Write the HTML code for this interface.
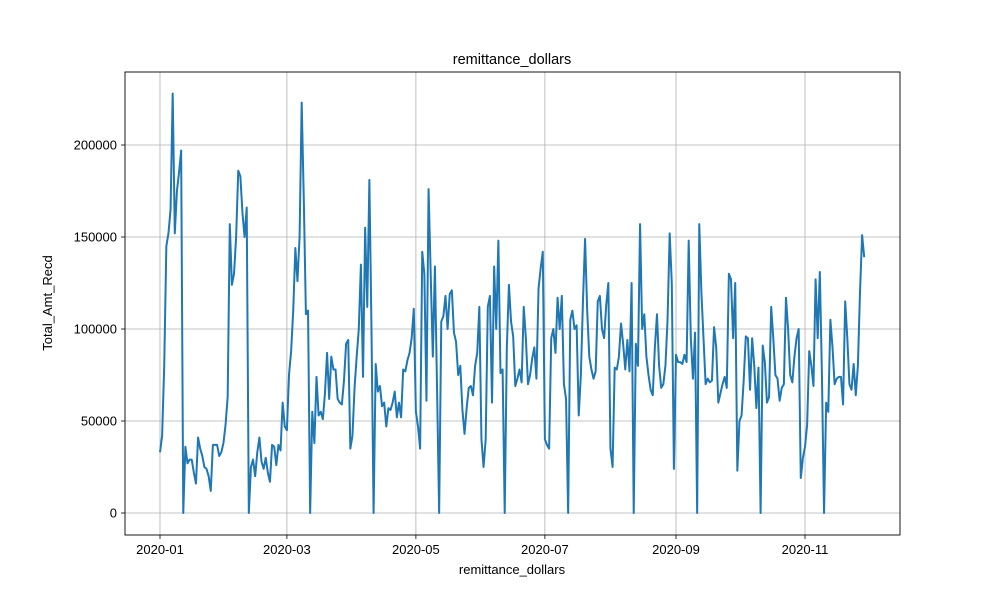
<!DOCTYPE html>
<html><head><meta charset="utf-8"><style>
body{margin:0;background:#fff;}
svg text{font-family:"Liberation Sans","DejaVu Sans",sans-serif;}
</style></head><body>
<svg id="chart" width="1000" height="600" xmlns="http://www.w3.org/2000/svg">
<rect width="1000" height="600" fill="#fff"/>
<g id="grid"></g>
<g id="axes"></g>
<path id="line" fill="none" stroke="#1f77b4" stroke-width="2" stroke-linejoin="round"/>
<rect x="125" y="72" width="775" height="463" fill="none" stroke="#000" stroke-width="0.9"/>
<text x="512" y="64" font-size="14.5" text-anchor="middle">remittance_dollars</text>
<text x="512" y="574" font-size="13" text-anchor="middle">remittance_dollars</text>
<text transform="translate(52,303) rotate(-90)" font-size="13" text-anchor="middle">Total_Amt_Recd</text>
</svg>
<script>
const values = [
33,42,80,145,152,165,228,152,175,185,197,0,36,27,29,29,22,16,41,35,31,25,24,20,12,37,37,37,31,33,38,
48,63,157,124,130,150,186,183,163,150,166,0,25,29,20,33,41,28,24,30,22,17,37,36,26,37,34,60,47,
45,75,88,110,144,126,150,223,170,108,110,0,55,38,74,53,55,51,65,87,62,85,78,78,62,60,59,72,92,94,35,
42,68,85,100,135,74,155,112,181,100,0,81,66,69,58,60,47,57,56,60,66,52,60,52,78,77,83,87,95,111,55,47,
35,142,130,61,176,130,85,134,68,0,104,107,118,100,119,121,98,93,75,80,56,43,57,68,69,64,80,87,112,40,25,
40,112,118,60,134,100,148,76,78,0,90,124,104,96,69,73,78,71,112,95,70,75,84,90,73,122,133,142,40,37,
35,95,100,87,117,100,118,70,62,0,105,110,100,102,53,75,115,149,110,85,78,73,77,115,118,100,95,113,125,35,25,
79,78,85,103,92,78,94,77,125,0,92,80,157,100,108,85,75,67,64,90,108,80,68,70,80,105,152,125,24,
86,82,82,81,86,82,148,95,73,98,0,157,120,95,70,73,71,72,101,90,60,65,70,74,68,130,127,95,125,23,
50,53,72,96,95,67,95,80,57,79,0,91,82,60,63,112,95,75,73,61,68,70,117,100,75,71,85,95,100,19,30,
36,48,88,80,69,127,95,131,75,0,60,55,105,90,70,73,74,74,59,115,95,70,67,81,64,80,120,151,139
];
const xTickDays = [0,60,121,182,244,305];
const xTickLabels = ["2020-01","2020-03","2020-05","2020-07","2020-09","2020-11"];
const yTicks = [0,50000,100000,150000,200000];
const yTickLabels = ["0","50000","100000","150000","200000"];

const X = d => 160 + d * 2.1148;
const Y = v => 513 - v / 200000 * 368;
const NS = "http://www.w3.org/2000/svg";
const grid = document.getElementById('grid');
const axes = document.getElementById('axes');
function mk(tag, attrs, parent){const e=document.createElementNS(NS,tag);for(const k in attrs)e.setAttribute(k,attrs[k]);parent.appendChild(e);return e;}

xTickDays.forEach((d,i)=>{
  const x=X(d);
  const g=mk('line',{x1:x,x2:x,y1:72,y2:535,stroke:'#b0b0b0','stroke-width':0.8},grid);
  
  
  const t=mk('line',{x1:x,x2:x,y1:535,y2:539,stroke:'#000','stroke-width':0.8},axes);
  
  
  const l=mk('text',{x:x,y:554,'font-size':13,'text-anchor':'middle'},axes);
  l.textContent=xTickLabels[i];
  
  
});
yTicks.forEach((v,i)=>{
  const y=Y(v);
  const g=mk('line',{x1:125,x2:900,y1:y,y2:y,stroke:'#b0b0b0','stroke-width':0.8},grid);
  
  
  const t=mk('line',{x1:121,x2:125,y1:y,y2:y,stroke:'#000','stroke-width':0.8},axes);
  
  
  const l=mk('text',{x:117,y:y+4.5,'font-size':13,'text-anchor':'end'},axes);
  l.textContent=yTickLabels[i];
  
  
});
document.getElementById('line').setAttribute('d', values.map((v,i)=>(i?'L':'M')+X(i).toFixed(2)+','+Y(v*1000).toFixed(2)).join(''));
</script>
</body></html>
